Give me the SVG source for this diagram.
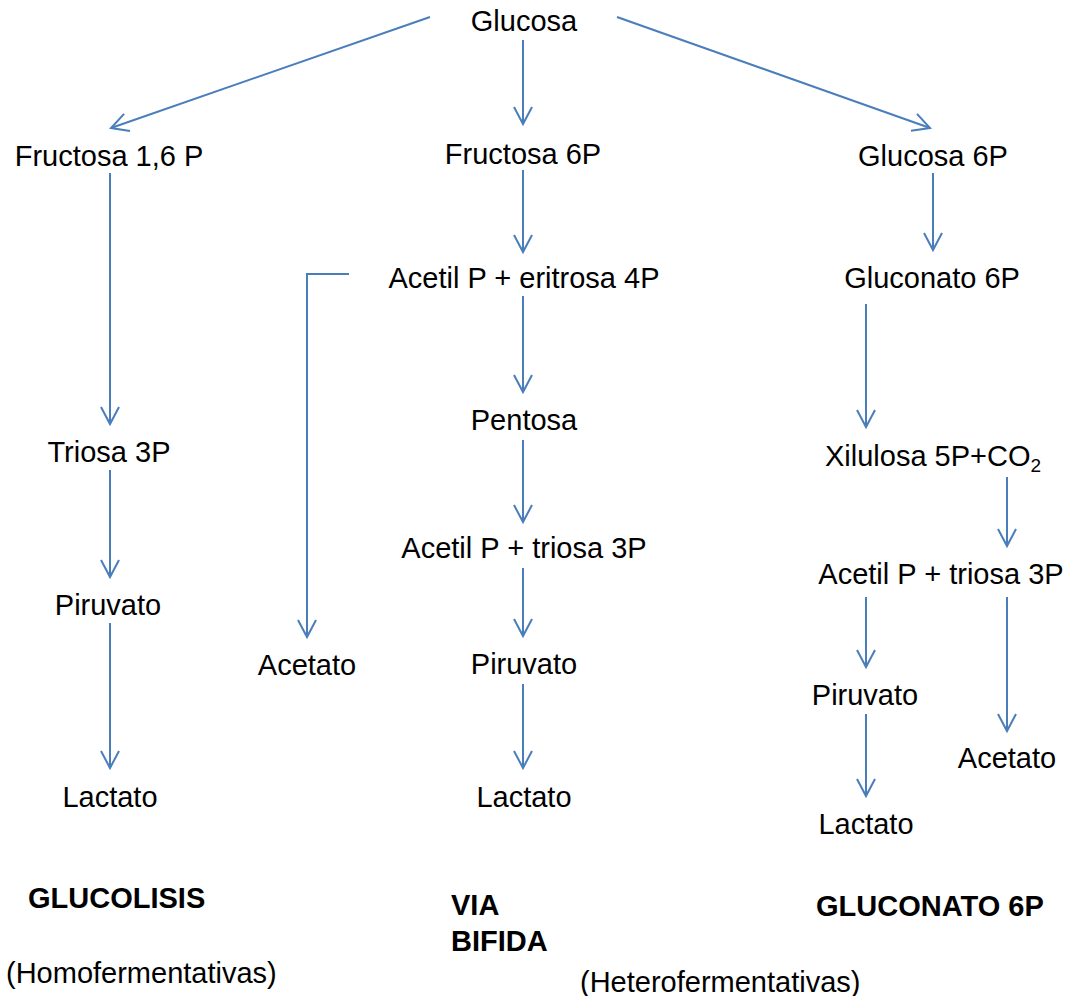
<svg xmlns="http://www.w3.org/2000/svg" width="1068" height="996" viewBox="0 0 1068 996">
<defs>
<marker id="ah" markerUnits="userSpaceOnUse" markerWidth="40" markerHeight="40" refX="0" refY="0" viewBox="-20 -20 40 40" orient="auto" overflow="visible">
<path d="M -17 -9 L 0 0 L -17 9" fill="none" stroke="#4a7ebb" stroke-width="2"/>
</marker>
<style>
.t{font-family:"Liberation Sans",Arial,sans-serif;font-size:29px;fill:#000;}
.b{font-family:"Liberation Sans",Arial,sans-serif;font-size:29px;font-weight:bold;fill:#000;}
.c{fill:none;stroke:#4a7ebb;stroke-width:2;}
.a{marker-end:url(#ah);}
</style>
</defs>
<rect width="1068" height="996" fill="#fff"/>
<g id="connectors">
<line class="c a" x1="430" y1="17" x2="111" y2="128"/>
<line class="c a" x1="523" y1="40" x2="523" y2="124"/>
<line class="c a" x1="617" y1="17" x2="930" y2="128"/>
<line class="c a" x1="110" y1="173" x2="110" y2="424"/>
<line class="c a" x1="110" y1="470" x2="110" y2="577"/>
<line class="c a" x1="110" y1="623" x2="110" y2="768"/>
<line class="c a" x1="523" y1="170" x2="523" y2="252"/>
<line class="c a" x1="523" y1="296" x2="523" y2="392"/>
<line class="c a" x1="523" y1="440" x2="523" y2="522"/>
<line class="c a" x1="523" y1="568" x2="523" y2="636"/>
<line class="c a" x1="523" y1="684" x2="523" y2="768"/>
<polyline class="c a" points="349,274 307,274 307,637"/>
<line class="c a" x1="933" y1="173" x2="933" y2="250"/>
<line class="c a" x1="866" y1="304" x2="866" y2="427"/>
<line class="c a" x1="1007" y1="477" x2="1007" y2="546"/>
<line class="c a" x1="866" y1="597" x2="866" y2="667"/>
<line class="c a" x1="1007" y1="597" x2="1007" y2="731"/>
<line class="c a" x1="866" y1="714" x2="866" y2="796"/>
</g>
<g id="glucosa"><text class="t" x="524" y="31" text-anchor="middle">Glucosa</text></g>
<g id="fructosa16p"><text class="t" x="109" y="166" text-anchor="middle">Fructosa 1,6 P</text></g>
<g id="fructosa6p"><text class="t" x="523" y="164" text-anchor="middle">Fructosa 6P</text></g>
<g id="glucosa6p"><text class="t" x="933" y="166" text-anchor="middle">Glucosa 6P</text></g>
<g id="acetil-eritrosa"><text class="t" x="524" y="288" text-anchor="middle">Acetil P + eritrosa 4P</text></g>
<g id="gluconato6p"><text class="t" x="932" y="288" text-anchor="middle">Gluconato 6P</text></g>
<g id="triosa3p"><text class="t" x="109" y="462" text-anchor="middle">Triosa 3P</text></g>
<g id="pentosa"><text class="t" x="524" y="430" text-anchor="middle">Pentosa</text></g>
<g id="xilulosa"><text class="t" x="825" y="466">Xilulosa 5P+CO<tspan font-size="19" dy="6">2</tspan></text></g>
<g id="acetil-triosa-mid"><text class="t" x="524" y="558" text-anchor="middle">Acetil P + triosa 3P</text></g>
<g id="acetil-triosa-right"><text class="t" x="941" y="584" text-anchor="middle">Acetil P + triosa 3P</text></g>
<g id="piruvato-left"><text class="t" x="108" y="615" text-anchor="middle">Piruvato</text></g>
<g id="acetato-left"><text class="t" x="307" y="675" text-anchor="middle">Acetato</text></g>
<g id="piruvato-mid"><text class="t" x="524" y="674" text-anchor="middle">Piruvato</text></g>
<g id="piruvato-right"><text class="t" x="865" y="705" text-anchor="middle">Piruvato</text></g>
<g id="acetato-right"><text class="t" x="1007" y="768" text-anchor="middle">Acetato</text></g>
<g id="lactato-left"><text class="t" x="110" y="807" text-anchor="middle">Lactato</text></g>
<g id="lactato-mid"><text class="t" x="524" y="807" text-anchor="middle">Lactato</text></g>
<g id="lactato-right"><text class="t" x="866" y="834" text-anchor="middle">Lactato</text></g>
<g id="label-glucolisis"><text class="b" x="28" y="908">GLUCOLISIS</text></g>
<g id="label-via-bifida"><text class="b" x="451" y="915">VIA</text><text class="b" x="451" y="951">BIFIDA</text></g>
<g id="label-gluconato"><text class="b" x="816" y="916">GLUCONATO 6P</text></g>
<g id="label-homo"><text class="t" x="6" y="983">(Homofermentativas)</text></g>
<g id="label-hetero"><text class="t" x="580" y="992">(Heterofermentativas)</text></g>
</svg>
